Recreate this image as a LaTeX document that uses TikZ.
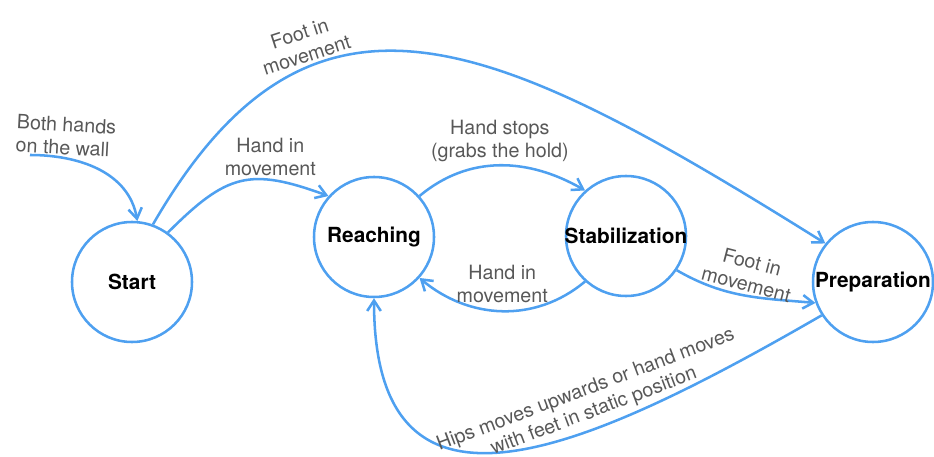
\documentclass[tikz,border=0pt]{standalone}
\usepackage{fontspec}
\setmainfont{TeX Gyre Heros}
\usetikzlibrary{arrows.meta}

\definecolor{flowblue}{RGB}{78,160,240}
\definecolor{labelgray}{RGB}{88,88,88}
\newcommand{\statefont}{\fontsize{14.8}{17}\selectfont\bfseries}
\newcommand{\condfont}{\fontsize{14}{16.3}\selectfont}
\newcommand{\statename}[1]{\makebox[0pt]{#1}}

\begin{document}
\begin{tikzpicture}[
    state/.style = {draw = flowblue, line width = 1.8pt, circle, minimum size = 3cm, inner sep = 0pt, font = \statefont},
    edge/.style  = {draw = flowblue, line width = 1.8pt, -{Straight Barb[length = 2.6mm, width = 3.4mm]}},
    cond/.style  = {text = labelgray, font = \condfont, align = center, inner sep = 2pt}
  ]
    \useasboundingbox (0, 0) rectangle (23.35, 11.4);

    \node (start) at ( 3.3  , 4.35 ) [state] {\statename{Start}};
    \node (reach) at ( 9.35 , 5.475) [state] {\statename{Reaching}};
    \node (stab)  at (15.65 , 5.5  ) [state] {\statename{Stabilization}};
    \node (prep)  at (21.825, 4.35 ) [state] {\statename{Preparation}};

    \coordinate (init) at (0.75, 7.525);
    \node (initlabel) at (1.65, 8.0) [cond, align = left, rotate = -3] {Both hands\\on the wall};

    \draw [edge] (init) to [out = 0, in = 100] (start.85);
    \draw [edge] (start.54) to [out = 45, in = 160, looseness = 1.3]
      node [cond, pos = .7, above] {Hand in\\movement} (reach.138);
    \draw [edge] (start.70) to [out = 60, in = 148, out looseness = 1.2, in looseness = 1.5]
      node [cond, pos = .31, sloped, above, rotate = -4] {Foot in\\movement} (prep.141);
    \draw [edge] (reach.42) to [out = 40, in = 150]
      node [cond, pos = .5, above] {Hand stops\\(grabs the hold)} (stab.132);
    \draw [edge] (stab.-132) to [out = -140, in = -40]
      node [cond, pos = .5, above = 3pt] {Hand in\\movement} (reach.-42);
    \draw [edge] (stab.-34) to [out = -30, in = 175]
      node [cond, pos = .5, sloped, above, rotate = -4] {Foot in\\movement} (prep.-160);
    \draw [edge] (prep.-147) to [out = -150, in = -90, out looseness = 1.6, in looseness = 1.4]
      node [cond, pos = .33, sloped, above = 3pt, inner sep = 1pt] {Hips moves upwards or hand moves\\with feet in static position} (reach.south);
  \end{tikzpicture}
\end{document}
